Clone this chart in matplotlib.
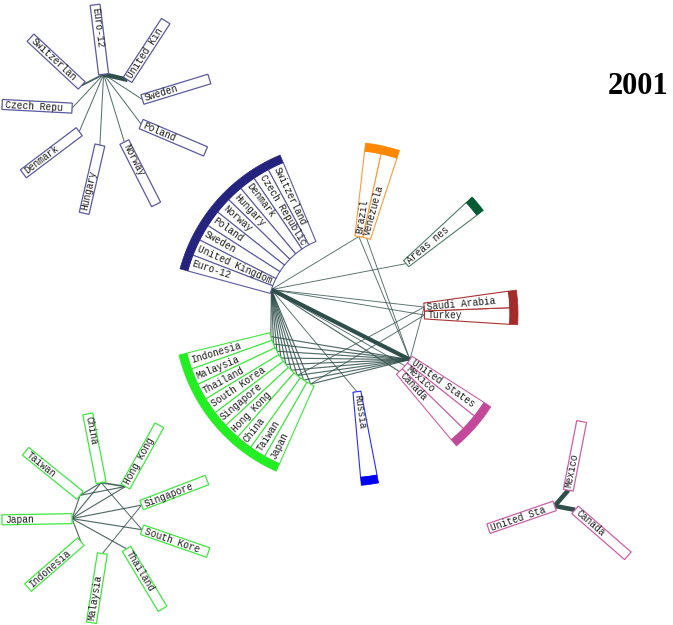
import numpy as np
import matplotlib
matplotlib.use("Agg")
import matplotlib.pyplot as plt
from matplotlib.patches import Polygon

# ---- data -------------------------------------------------------------
year = "2001"

# groups in counter-clockwise order, members counter-clockwise too
russia = ["Russia"]
nafta = ["Canada", "Mexico", "United States"]
mideast = ["Turkey", "Saudi Arabia"]
other = ["Areas nes"]
samerica = ["Venezuela", "Brazil"]
europe = ["Switzerland", "Czech Republic", "Denmark", "Hungary", "Norway",
          "Poland", "Sweden", "United Kingdom", "Euro-12"]
asia = ["Indonesia", "Malaysia", "Thailand", "South Korea", "Singapore",
        "Hong Kong", "China", "Taiwan", "Japan"]
groups = [russia, nafta, mideast, other, samerica, europe, asia]

# links between groups (source, target, weight)
central_links = (
    [("Euro-12", "United States", 5)]
    + [("Euro-12", a, 1.4) for a in asia]
    + [("United States", a, 1.4) for a in asia]
    + [("Euro-12", "Saudi Arabia", 1.1), ("Euro-12", "Turkey", 1.1),
       ("Euro-12", "Areas nes", 1.1), ("Euro-12", "Brazil", 1.1),
       ("Euro-12", "Russia", 1.1), ("Euro-12", "Canada", 1.4),
       ("Euro-12", "Mexico", 1.1),
       ("United States", "Brazil", 1.1), ("United States", "Venezuela", 1.1),
       ("United States", "Saudi Arabia", 1.1),
       ("Japan", "Turkey", 1.1), ("China", "Saudi Arabia", 1.1)]
)

# links inside groups
europe_links = ([("Euro-12", "United Kingdom", 5.5), ("Euro-12", "Switzerland", 2.2)]
                + [("Euro-12", e, 1.2) for e in europe[1:7]])
asia_links = [("Japan", "China", 1.4), ("Japan", "Hong Kong", 1.4),
              ("Japan", "Singapore", 1.4), ("Japan", "South Korea", 1.4),
              ("Japan", "Thailand", 1.4), ("Japan", "Taiwan", 1.4),
              ("Japan", "Indonesia", 1.4), ("Taiwan", "Hong Kong", 1.4),
              ("Taiwan", "China", 1.4), ("China", "Hong Kong", 2),
              ("China", "South Korea", 1.2), ("Malaysia", "Singapore", 1.2)]
nafta_links = [("United States", "Mexico", 5.5), ("United States", "Canada", 5.5)]

# ---- layout / style ---------------------------------------------------
outline = ["#2a2aff", "#cc5fa8", "#aa3333", "#4d7d66", "#ff9a33", "#5a5aa2", "#3fe83f"]
band = ["#0000ee", "#c4489a", "#a52a2a", "#005a32", "#ff8800", "#24247e", "#22ee22"]
CX, CY = 346, 314
R_IN, R_BAND, R_OUT = 78.5, 164, 172
GAP = 5
START = -84.9
LINK = "#2f4f4a"
MONO = "Liberation Mono"
FS = 6.9

fig = plt.figure(figsize=(6.73, 6.25), dpi=100)
ax = fig.add_axes([0, 0, 1, 1])
ax.set_xlim(0, 673)
ax.set_ylim(625, 0)
ax.axis("off")


def pol(cx, cy, r, deg):
    t = np.radians(deg)
    return np.array([cx + r * np.cos(t), cy - r * np.sin(t)])


def arc(r, a0, a1, n=20):
    return [pol(CX, CY, r, a) for a in np.linspace(a0, a1, n)]


def label(xy, ang, text, inner, outer):
    # text reads outward on the right side, inward on the left side
    if np.cos(np.radians(ang)) < 0:
        p, rot = pol(xy[0], xy[1], outer, ang), ang + 180
    else:
        p, rot = pol(xy[0], xy[1], inner, ang), ang
    ax.text(p[0], p[1], text, rotation=rot, rotation_mode="anchor",
            ha="left", va="center", fontsize=FS, family=MONO,
            color="#1a1a1a", zorder=5)


def link(p, q, w, z):
    ax.plot([p[0], q[0]], [p[1], q[1]], color=LINK, lw=0.6 * w,
            alpha=min(1, 0.75 + 0.06 * w), solid_capstyle="butt", zorder=z)


# central fans
unit = 360 / (sum(len(g) for g in groups) + GAP * len(groups))
hub = {}
a = START
for gi, members in enumerate(groups):
    for name in members:
        a0, a1 = a, a + unit
        mid = (a0 + a1) / 2
        ax.add_patch(Polygon(arc(R_IN, a0, a1) + arc(R_BAND, a1, a0),
                             closed=True, fc="white", ec=outline[gi], lw=0.8, zorder=3))
        ax.add_patch(Polygon(arc(R_BAND, a0, a1) + arc(R_OUT, a1, a0),
                             closed=True, fc=band[gi], ec=band[gi], lw=0.5, zorder=3))
        label((CX, CY), mid, name, R_IN + 3, R_BAND - 2)
        hub[name] = pol(CX, CY, R_IN, mid)
        a = a1
    a += GAP * unit

for s, t, w in central_links:
    link(hub[s], hub[t], w, 1)

# small stars: (members, links, colour index, centre x, centre y, first angle)
stars = [(europe, europe_links, 5, 108, 110, 137),
         (asia, asia_links, 6, 108, 518, 221),
         (nafta, nafta_links, 1, 566, 502, 319)]
BOX_L, BOX_W = 70, 10

for members, links, ci, sx, sy, a_first in stars:
    n = len(members)
    rn = 4 * n
    nodes = {}
    for i, name in enumerate(members):
        ang = a_first + i * 360 / n
        node = pol(sx, sy, rn, ang)
        nodes[name] = node
        d = np.array([np.cos(np.radians(ang)), -np.sin(np.radians(ang))])
        pp = np.array([d[1], -d[0]]) * BOX_W / 2
        far = node + d * BOX_L
        ax.add_patch(Polygon([node + pp, far + pp, far - pp, node - pp], closed=True,
                             fc="white", ec=outline[ci], lw=0.9, zorder=3))
        label(node, ang, name[:10], 3, BOX_L - 3)
    for s, t, w in links:
        link(nodes[s], nodes[t], w, 2)

ax.text(638, 86, year, ha="center", va="center", fontsize=22,
        fontweight="bold", family="Liberation Serif", color="black")

fig.savefig("out.png", dpi=100, facecolor="white")
